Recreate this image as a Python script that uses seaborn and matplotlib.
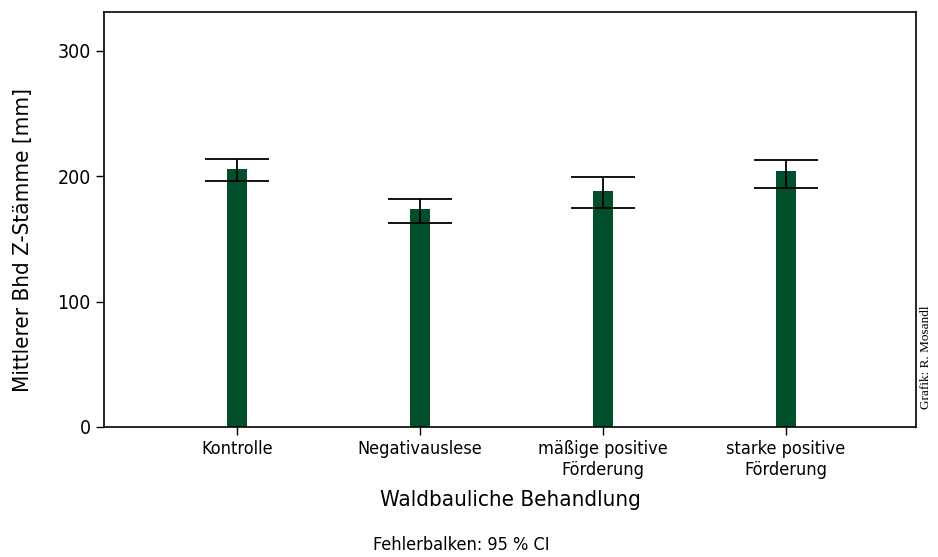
import numpy as np
import pandas as pd
import matplotlib
matplotlib.use("Agg")
import matplotlib.pyplot as plt
import seaborn as sns

# Daten
behandlung = ["Kontrolle", "Negativauslese", "mäßige positive\nFörderung", "starke positive\nFörderung"]
mittelwert = [206, 174, 188, 204]
ci_unten = [196, 163, 175, 191]
ci_oben = [214, 182, 199, 213]

sns.set_style("white")
plt.rcParams["font.family"] = ["DejaVu Sans"]
plt.rcParams["font.stretch"] = "condensed"
plt.rcParams["text.color"] = "black"
plt.rcParams["axes.labelcolor"] = "black"
plt.rcParams["xtick.color"] = "black"
plt.rcParams["ytick.color"] = "black"

df = pd.DataFrame({"Behandlung": behandlung, "Bhd": mittelwert})

fig = plt.figure(figsize=(9.38, 5.57), dpi=100)
ax = fig.add_axes([104 / 938, 130 / 557, 812 / 938, 415 / 557])

sns.barplot(data=df, x="Behandlung", y="Bhd", color="#014f2b", width=0.11,
            saturation=1, ax=ax, edgecolor="none")

pos = np.arange(len(behandlung))
m = np.array(mittelwert)
yerr = np.vstack([m - np.array(ci_unten), np.array(ci_oben) - m])
ax.errorbar(pos, m, yerr=yerr, fmt="none", ecolor="black", elinewidth=1.3,
            capsize=23, capthick=1.3)

ax.set_xlim(-0.727, 3.71)
ax.set_ylim(0, 331)
ax.set_yticks([0, 100, 200, 300])
ax.tick_params(axis="y", labelsize=14, length=6, width=1, direction="out", left=True)
ax.tick_params(axis="x", labelsize=13, length=6, width=1, direction="out", bottom=True)
for s in ax.spines.values():
    s.set_color("black")
    s.set_linewidth(1.2)

ax.set_xlabel("Waldbauliche Behandlung", fontsize=16, labelpad=8)
ax.set_ylabel("Mittlerer Bhd Z-Stämme [mm]", fontsize=16)
ax.yaxis.set_label_coords(-0.087, 0.45)

fig.text(373 / 938, 1 - 545 / 557, "Fehlerbalken: 95 % CI", fontsize=13,
         ha="left", va="center")
fig.text(926 / 938, 1 - 357 / 557, "Grafik: R. Mosandl", fontsize=9.5,
         rotation=90, ha="center", va="center", family="Liberation Serif",
         stretch="normal")

fig.savefig("out.png", dpi=100)
